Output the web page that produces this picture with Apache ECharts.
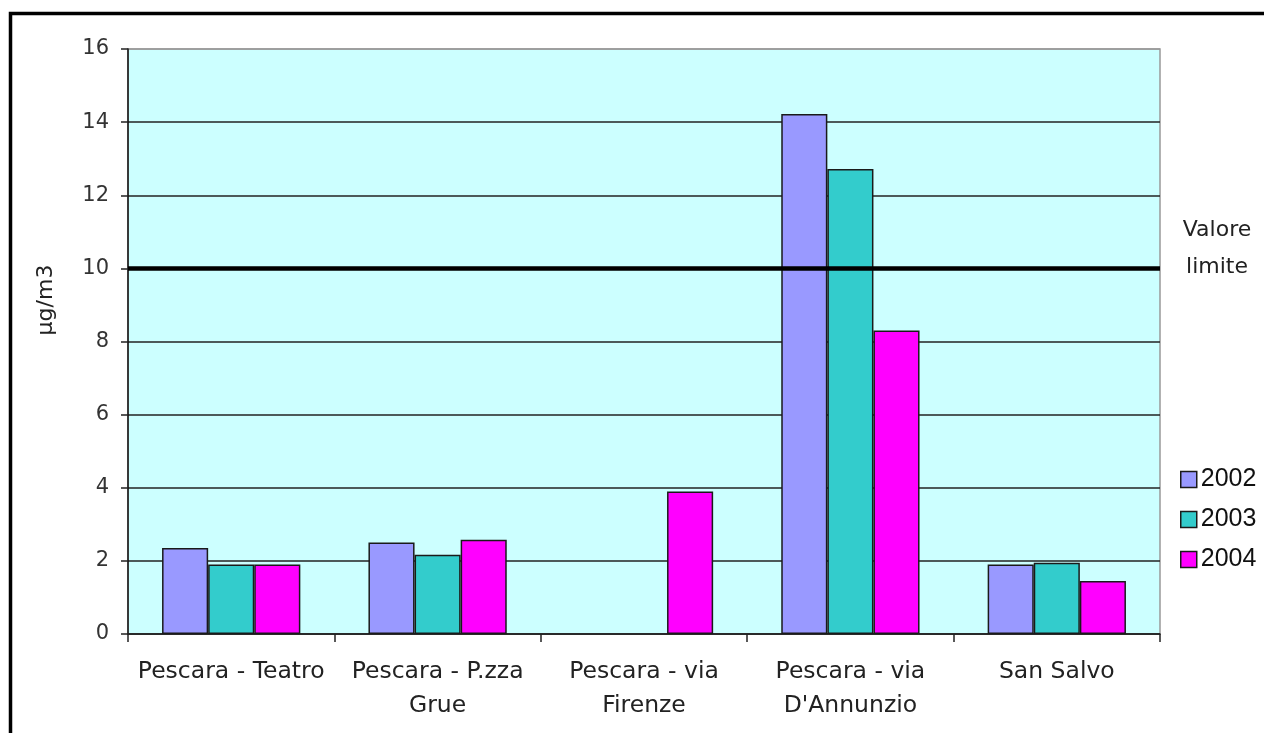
<!DOCTYPE html>
<html>
<head>
<meta charset="utf-8">
<script src="https://cdn.jsdelivr.net/npm/echarts@6/dist/echarts.min.js"></script>
<style>
  html, body { margin: 0; padding: 0; background: #fff; }
  #chart { width: 1264px; height: 733px; }
</style>
</head>
<body>
<div id="chart"></div>
<script>
// Monitoring sites (two-line labels where the name wraps)
const sites = [
  'Pescara - Teatro',
  'Pescara - P.zza\nGrue',
  'Pescara - via\nFirenze',
  'Pescara - via\nD\'Annunzio',
  'San Salvo'
];
// Annual mean concentrations, µg/m3 (null = no measurement)
const years = ['2002', '2003', '2004'];
const values2002 = [2.35, 2.5, null, 14.22, 1.9];
const values2003 = [1.9, 2.17, null, 12.72, 1.95];
const values2004 = [1.9, 2.58, 3.9, 8.3, 1.45];
const limitValue = 10;
const limitLabel = 'Valore\nlimite';
const yTicks = { min: 0, max: 16, step: 2 };

const colors = ['#9999FF', '#33CCCC', '#FF00FF'];
const fontMain = '"DejaVu Sans", sans-serif';

const chart = echarts.init(document.getElementById('chart'));

function barSeries(name, data, color, extra) {
  return Object.assign({
    name: name,
    type: 'bar',
    data: data,
    barGap: '0%',
    barCategoryGap: '33%',
    itemStyle: { color: color, borderColor: '#1a1a1a', borderWidth: 1.5 },
    emphasis: { disabled: true }
  }, extra || {});
}

// grid line colours: dark for 0..14, light grey for the top border at 16
const splitColors = [];
for (let v = yTicks.min; v <= yTicks.max; v += yTicks.step) {
  splitColors.push(v === yTicks.max ? '#999999' : '#222222');
}

chart.setOption({
  animation: false,
  backgroundColor: '#ffffff',
  grid: {
    left: 128, right: 104, top: 49, bottom: 99,
    show: true,
    backgroundColor: '#CCFFFF',
    borderColor: '#999999',
    borderWidth: 1.5
  },
  legend: {
    orient: 'vertical',
    left: 1180,
    top: 467,
    padding: 0,
    itemWidth: 16,
    itemHeight: 16,
    itemGap: 15,
    icon: 'rect',
    data: years,
    itemStyle: { borderColor: '#1a1a1a', borderWidth: 1.5 },
    textStyle: {
      fontFamily: '"Liberation Sans", Arial, sans-serif',
      fontSize: 25, lineHeight: 25, color: '#111', padding: [0, 0, 0, -1]
    }
  },
  xAxis: {
    type: 'category',
    data: sites,
    boundaryGap: true,
    axisLine: { lineStyle: { color: '#222', width: 1.5 } },
    axisTick: { show: true, length: 8, lineStyle: { color: '#222', width: 1.5 } },
    axisLabel: {
      interval: 0,
      margin: 21,
      fontFamily: fontMain,
      fontSize: 23.5,
      color: '#222',
      lineHeight: 34
    }
  },
  yAxis: {
    type: 'value',
    min: yTicks.min,
    max: yTicks.max,
    interval: yTicks.step,
    axisLine: { show: true, lineStyle: { color: '#111', width: 1.5 } },
    axisTick: { show: true, length: 7, lineStyle: { color: '#222', width: 1.5 } },
    splitLine: { show: true, lineStyle: { color: splitColors, width: 1.5 } },
    axisLabel: { margin: 19, fontFamily: fontMain, fontSize: 21, color: '#333' }
  },
  graphic: [
    {
      type: 'rect',
      shape: { x: 10.5, y: 13.5, width: 1400, height: 900 },
      style: { fill: 'none', stroke: '#000', lineWidth: 3.5 },
      z: 100
    },
    {
      type: 'text',
      x: 46, y: 300,
      rotation: Math.PI / 2,
      style: {
        text: 'µg/m3',
        fontFamily: fontMain,
        fontSize: 22,
        fill: '#222',
        align: 'center',
        verticalAlign: 'middle'
      }
    }
  ],
  series: [
    barSeries(years[0], values2002, colors[0]),
    barSeries(years[1], values2003, colors[1]),
    barSeries(years[2], values2004, colors[2], {
      markLine: {
        silent: true,
        symbol: ['none', 'none'],
        data: [{ yAxis: limitValue }],
        lineStyle: { color: '#000', width: 4.5, type: 'solid' },
        label: {
          show: true,
          formatter: limitLabel,
          position: 'end',
          distance: 57,
          align: 'center',
          offset: [0, -20],
          fontFamily: fontMain,
          fontSize: 22,
          lineHeight: 37,
          color: '#222'
        },
        emphasis: { disabled: true }
      },
      z: 3
    })
  ]
});
</script>
</body>
</html>
